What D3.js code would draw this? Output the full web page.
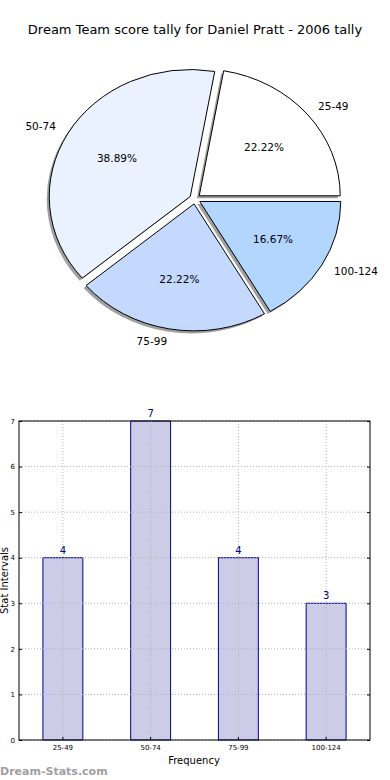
<!DOCTYPE html>
<html>
<head>
<meta charset="utf-8">
<script src="https://cdn.jsdelivr.net/npm/d3@7"></script>
<style>
  body { margin: 0; background: #fff; }
  svg { display: block; font-family: "DejaVu Sans", sans-serif; }
</style>
</head>
<body>
<div class="chart"></div>
<script>
// data
const categories = ["25-49", "50-74", "75-99", "100-124"];
const counts = [4, 7, 4, 3];
const sliceColors = ["#ffffff", "#eaf1ff", "#c5d9ff", "#b3d6ff"];
const yTicks = [0, 1, 2, 3, 4, 5, 6, 7];
const title = "Dream Team score tally for Daniel Pratt - 2006 tally";

const W = 390, H = 780;
const svg = d3.select(".chart").append("svg")
    .attr("width", W)
    .attr("height", H);

svg.append("text")
    .attr("x", 195).attr("y", 34)
    .attr("text-anchor", "middle")
    .attr("font-size", 13)
    .attr("fill", "#000")
    .text(title);

// ---- pie (matplotlib style: starts at 3 o'clock, goes counter-clockwise)
const cx = 195, cy = 199;
const rx = 141, ry = 127;
const k = ry / rx;
const explode = 5.5;

const total = d3.sum(counts);
const pie = d3.pie().sort(null)
    .startAngle(Math.PI / 2)
    .endAngle(Math.PI / 2 - 2 * Math.PI);
const arcs = pie(counts);
const arc = d3.arc().innerRadius(0).outerRadius(rx);

const pieG = svg.append("g")
    .attr("transform", `translate(${cx},${cy}) scale(1,${k})`);

const mid = d => (d.startAngle + d.endAngle) / 2;

// shadows first
pieG.selectAll("path.shadow")
    .data(arcs)
    .join("path")
    .attr("class", "shadow")
    .attr("d", arc)
    .attr("transform", d => `translate(${explode * Math.sin(mid(d)) - 2.5},${-explode * Math.cos(mid(d)) + 2.5 / k})`)
    .attr("fill", "#808080")
    .attr("opacity", 0.75);

pieG.selectAll("path.slice")
    .data(arcs)
    .join("path")
    .attr("class", "slice")
    .attr("d", arc)
    .attr("transform", d => `translate(${explode * Math.sin(mid(d))},${-explode * Math.cos(mid(d))})`)
    .attr("fill", (d, i) => sliceColors[i])
    .attr("stroke", "#000")
    .attr("stroke-width", 1)
    .attr("vector-effect", "non-scaling-stroke");

// labels outside the pie
svg.selectAll("text.plabel")
    .data(arcs)
    .join("text")
    .attr("class", "plabel")
    .attr("x", d => cx + (explode + 1.1 * rx) * Math.sin(mid(d)))
    .attr("y", d => cy - (explode + 1.1 * rx) * Math.cos(mid(d)) * k)
    .attr("dy", "0.35em")
    .attr("text-anchor", d => Math.sin(mid(d)) > 0 ? "start" : "end")
    .attr("font-size", 10.5)
    .text((d, i) => categories[i]);

// percentages
svg.selectAll("text.pct")
    .data(arcs)
    .join("text")
    .attr("class", "pct")
    .attr("x", d => cx + (explode + 0.6 * rx) * Math.sin(mid(d)))
    .attr("y", d => cy - (explode + 0.6 * rx) * Math.cos(mid(d)) * k)
    .attr("dy", "0.35em")
    .attr("text-anchor", "middle")
    .attr("font-size", 10.5)
    .text(d => (d.value / total * 100).toFixed(2) + "%");

// ---- bar chart
const plotL = 19, plotR = 370, plotT = 421, plotB = 740;

const x = d3.scaleBand()
    .domain(categories)
    .range([plotL, plotR])
    .paddingInner(0.545)
    .paddingOuter(0.2725);

const y = d3.scaleLinear()
    .domain([0, 7])
    .range([plotB, plotT]);

const grid = svg.append("g").attr("stroke", "#b0b0b0").attr("stroke-dasharray", "1,2");
grid.selectAll("line.h")
    .data(yTicks)
    .join("line")
    .attr("class", "h")
    .attr("x1", plotL).attr("x2", plotR)
    .attr("y1", d => y(d)).attr("y2", d => y(d));

svg.selectAll("rect.bar")
    .data(counts)
    .join("rect")
    .attr("class", "bar")
    .attr("x", (d, i) => x(categories[i]))
    .attr("y", d => y(d))
    .attr("width", x.bandwidth())
    .attr("height", d => plotB - y(d))
    .attr("fill", "#cccce6")
    .attr("stroke", "#00008b")
    .attr("stroke-width", 1);

// vertical grid lines drawn over the bars
grid.raise();
grid.selectAll("line.v")
    .data(categories)
    .join("line")
    .attr("class", "v")
    .attr("x1", d => x(d) + x.bandwidth() / 2).attr("x2", d => x(d) + x.bandwidth() / 2)
    .attr("y1", plotT).attr("y2", plotB);

// value labels
svg.selectAll("text.val")
    .data(counts)
    .join("text")
    .attr("class", "val")
    .attr("x", (d, i) => x(categories[i]) + x.bandwidth() / 2)
    .attr("y", d => y(d) - 4)
    .attr("text-anchor", "middle")
    .attr("font-size", 10)
    .attr("fill", "#00008b")
    .text(d => d);

// frame
svg.append("rect")
    .attr("x", plotL).attr("y", plotT)
    .attr("width", plotR - plotL).attr("height", plotB - plotT)
    .attr("fill", "none")
    .attr("stroke", "#000")
    .attr("stroke-width", 1);

// axes
const yAxis = d3.axisLeft(y).tickValues(yTicks).tickFormat(d3.format("d")).tickSize(-3).tickPadding(4);
svg.append("g")
    .attr("transform", `translate(${plotL},0)`)
    .call(yAxis)
    .call(g => g.select(".domain").remove())
    .call(g => g.selectAll("text").attr("font-size", 7).attr("font-family", "DejaVu Sans"));

// right-side ticks
svg.append("g")
    .attr("transform", `translate(${plotR},0)`)
    .call(d3.axisRight(y).tickValues(yTicks).tickSize(-3).tickFormat(""))
    .call(g => g.select(".domain").remove());

const xAxis = d3.axisBottom(x).tickSize(-3).tickPadding(5);
svg.append("g")
    .attr("transform", `translate(0,${plotB})`)
    .call(xAxis)
    .call(g => g.select(".domain").remove())
    .call(g => g.selectAll("text").attr("font-size", 7).attr("font-family", "DejaVu Sans"));

svg.append("text")
    .attr("x", 194).attr("y", 764)
    .attr("text-anchor", "middle")
    .attr("font-size", 10)
    .text("Frequency");

svg.append("text")
    .attr("transform", `translate(8,${(plotT + plotB) / 2}) rotate(-90)`)
    .attr("text-anchor", "middle")
    .attr("font-size", 10)
    .text("Stat Intervals");

svg.append("text")
    .attr("x", 0).attr("y", 775)
    .attr("font-size", 11)
    .attr("font-weight", "bold")
    .attr("fill", "#a0a0a0")
    .text("Dream-Stats.com");
</script>
</body>
</html>
